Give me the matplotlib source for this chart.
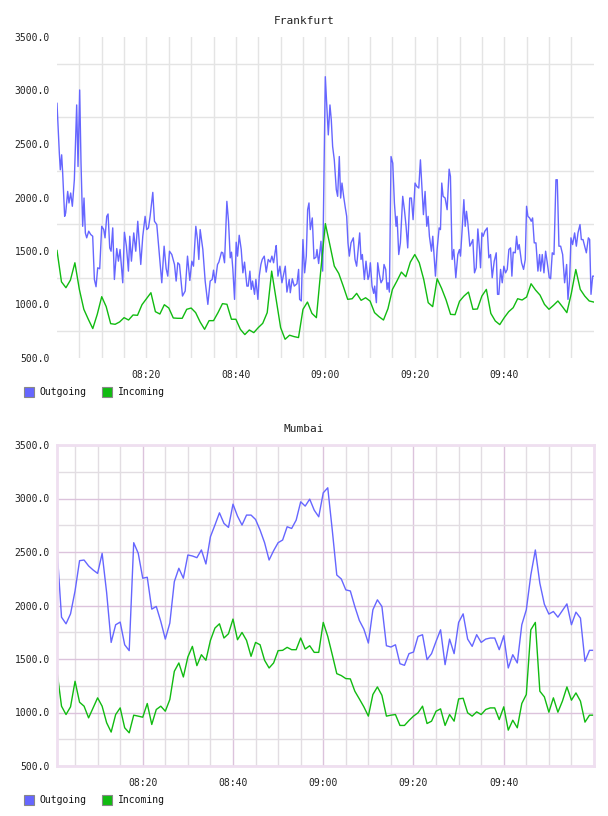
import matplotlib
matplotlib.use('Agg')
from matplotlib import pyplot as plt
from matplotlib.patches import Rectangle
from matplotlib.ticker import FixedLocator, NullFormatter

# minutes after 08:00
fra_out_t = [0, 0.52, 0.74, 1.04, 1.27, 1.71, 1.94, 2.39, 2.68, 3.06, 3.43, 3.88, 4.40, 4.70, 5.07,
             5.37, 5.74, 6.04, 6.34, 6.64, 7.09, 7.54, 7.98, 8.36, 8.73, 9.10, 9.55, 10.0, 10.45, 10.74,
             11.12, 11.42, 11.79, 12.09, 12.46, 12.83, 13.36, 13.73, 14.10, 14.70, 15.07, 15.52, 15.97, 16.27, 16.64,
             17.16, 17.61, 18.06, 18.73, 19.18, 19.70, 20.07, 20.45, 20.82, 21.42, 21.79, 22.31, 22.83, 23.43, 23.95,
             24.40, 24.77, 25.15, 25.67, 26.27, 26.64, 27.01, 27.39, 28.06, 28.66, 29.18, 29.70, 30.15,
             30.52, 31.04, 31.41, 31.71, 32.01, 32.61, 33.13, 33.73, 34.25, 34.70, 35.0, 35.37, 35.89, 36.19, 36.78,
             37.08, 37.46, 37.98, 38.35, 38.73, 39.02, 39.32, 39.70, 40.07, 40.37, 40.74, 41.19, 41.56, 41.93, 42.46,
             42.76, 43.13, 43.43, 43.72, 44.17, 44.47, 44.92, 45.22, 45.59, 45.89, 46.34, 46.78, 47.23, 47.68, 48.05,
             48.43, 48.80, 49.02, 49.40, 49.84, 50.29, 50.67, 51.04, 51.41, 51.93, 52.16, 52.61, 53.05, 53.65, 54.02,
             54.25, 54.62, 54.99, 55.37, 55.74, 56.04, 56.34, 56.64, 57.08, 57.46, 57.90, 58.13, 58.50, 59.02, 59.40, 59.99,
             60.36, 60.66, 61.03, 61.33, 61.63, 62.0, 62.45, 62.75, 63.12, 63.42, 63.72, 64.09, 64.47, 64.77, 65.06,
             65.36, 65.74, 66.26, 66.63, 67.0, 67.68, 67.98, 68.27, 68.72, 69.09, 69.54, 69.77, 70.06, 70.44, 70.81,
             71.03, 71.41, 71.71, 72.08, 72.45, 72.83, 73.12, 73.50, 73.80, 74.02, 74.32, 74.69, 75.07, 75.44, 75.81,
             76.03, 76.41, 76.78, 77.30, 77.68, 78.05, 78.42, 78.87, 79.24, 79.62, 80.06, 80.44, 80.89, 81.26, 81.63,
             81.93, 82.30, 82.68, 82.98, 83.27, 83.72, 84.02, 84.62, 84.99, 85.44, 85.74, 86.03, 86.33, 86.78, 87.23,
             87.68, 87.97, 88.35, 88.72, 89.17, 89.62, 89.99,
             90.22, 90.59, 90.97, 91.27, 91.56, 91.86, 92.31, 92.68, 92.98, 93.35, 93.73, 94.10, 94.47, 94.70, 95.0,
             95.29, 95.67, 96.19, 96.56, 96.94, 97.31, 97.76, 98.21, 98.50, 98.80, 99.18, 99.55, 99.92, 100.29, 100.67,
             101.04, 101.41, 101.71, 102.01, 102.46, 102.76, 103.06, 103.35, 103.88, 104.32, 104.70, 104.99, 105.29, 105.67, 106.04,
             106.34, 106.71, 107.09, 107.53, 107.91, 108.13, 108.50, 108.88, 109.25, 109.62, 110.07, 110.37, 110.74, 111.12, 111.56,
             111.86, 112.23, 112.61, 113.06, 113.50, 113.95, 114.25, 114.62, 114.92, 115.29, 115.74, 116.12, 116.49, 116.94, 117.24,
             117.61, 117.99, 118.36, 118.81, 119.10, 119.40, 119.77, 120.07]
fra_out_v = [2880, 2415, 2259, 2399, 2228, 1824, 1855, 2057, 1949, 2042, 1918, 2166, 2865, 2290, 3005,
             2321, 1731, 1995, 1669, 1623, 1685, 1654, 1638, 1234, 1166, 1343, 1334, 1731, 1700, 1623,
             1824, 1846, 1529, 1498, 1716, 1234, 1523, 1405, 1514, 1203, 1675, 1545, 1312, 1638, 1405,
             1669, 1498, 1778, 1374, 1638, 1824, 1700, 1716, 1824, 2048, 1778, 1747, 1498, 1203, 1545,
             1337, 1265, 1498, 1467, 1374, 1219, 1390, 1374, 1079, 1126, 1452, 1225, 1405,
             1358, 1731, 1607, 1421, 1700, 1514, 1219, 1001, 1219, 1234, 1321, 1203, 1374, 1396, 1489,
             1483, 1390, 1964, 1778, 1436, 1489, 1328, 1048, 1582, 1452, 1647, 1514, 1296, 1396, 1172,
             1172, 1312, 1141, 1219, 1095, 1234, 1048, 1265, 1374, 1421, 1452, 1303, 1421, 1396, 1452,
             1390, 1498, 1551, 1265, 1358, 1203, 1281, 1358, 1116, 1234, 1110, 1241, 1172, 1194, 1328,
             1048, 1033, 1607, 1296, 1452, 1886, 1949, 1700, 1809, 1427, 1442, 1514, 1383, 1591, 1312, 3129,
             2818, 2585, 2865, 2725, 2477, 2352, 2073, 2011, 2383, 1995, 2135, 2011, 1902, 1824, 1576,
             1452, 1576, 1623, 1421, 1358, 1669, 1421, 1467, 1234, 1405, 1234, 1265, 1390, 1172, 1104,
             1172, 1017, 1390, 1281, 1203, 1234, 1374, 1328, 1141, 1203, 1116, 2383, 2321, 1949, 1731,
             1824, 1467, 1576, 2011, 1886, 1731, 1529, 1995, 1995, 1793, 2135, 2104, 2088, 2352, 2073,
             1840, 2057, 1731, 1824, 1638, 1498, 1638, 1265, 1514, 1716, 1700, 2135, 2011, 1995, 1886,
             2265, 2197, 1421, 1514, 1250, 1467, 1514,
             1452, 1700, 1980, 1731, 1871, 1762, 1545, 1576, 1607, 1296, 1343, 1706, 1514, 1343, 1669,
             1638, 1685, 1716, 1436, 1467, 1250, 1405, 1483, 1095, 1095, 1328, 1203, 1358, 1296, 1328,
             1514, 1529, 1265, 1489, 1483, 1638, 1514, 1560, 1390, 1328, 1421, 1918, 1824, 1809, 1778,
             1809, 1576, 1576, 1312, 1467, 1312, 1467, 1296, 1498, 1390, 1250, 1241, 1483, 1467, 2166,
             2166, 1545, 1545, 1467, 1203, 1374, 1048, 1234, 1623, 1560, 1669, 1545, 1669, 1747, 1607,
             1607, 1545, 1483, 1623, 1607, 1095, 1265, 1265]

fra_in_t = list(range(0, 121))
fra_in_v = [1505, 1212, 1157, 1228, 1390, 1141, 955, 862, 775, 908,
            1073, 980, 821, 815, 837, 877, 855, 902, 899, 998,
            1054, 1110, 933, 911, 998, 967, 874, 871, 871, 955,
            967, 924, 837, 768, 849, 849, 924, 1008, 1002, 862,
            862, 768, 719, 762, 737, 784, 824, 924, 1312, 1048,
            784, 675, 713, 700, 691, 955, 1023, 917, 877, 1327,
            1756, 1560, 1359, 1290, 1172, 1048, 1054, 1104, 1039, 1063,
            1032, 924, 886, 855, 961, 1141, 1219, 1303, 1259, 1396,
            1467, 1390, 1234, 1017, 980, 1241, 1150, 1042, 908, 905,
            1030, 1079, 1116, 955, 958, 1079, 1141, 917, 846, 812,
            877, 933, 970, 1054, 1042, 1070, 1194, 1135, 1088, 1001,
            955, 992, 1033, 980, 924, 1104, 1327, 1141, 1079, 1033,
            1023]

mum_t = list(range(1, 121))
mum_out_v = [2534, 1891, 1829, 1922, 2136, 2419, 2425, 2370, 2332, 2300,
             2487, 2120, 1655, 1820, 1845, 1633, 1578, 2587, 2488, 2255,
             2264, 1966, 1991, 1851, 1686, 1835, 2223, 2348, 2255, 2472,
             2463, 2447, 2519, 2388, 2643, 2752, 2866, 2767, 2730, 2947,
             2835, 2752, 2845, 2845, 2804, 2705, 2587, 2425, 2512, 2587,
             2612, 2736, 2720, 2798, 2969, 2929, 2994, 2891, 2829, 3053,
             3100, 2705, 2285, 2248, 2146, 2136, 1990, 1860, 1779, 1649,
             1960, 2053, 1991, 1624, 1612, 1633, 1456, 1441, 1550, 1565,
             1711, 1727, 1494, 1550, 1665, 1773, 1447, 1686, 1550, 1842,
             1922, 1686, 1618, 1727, 1655, 1686, 1696, 1696, 1587, 1717,
             1416, 1540, 1463, 1820, 1960, 2285, 2519, 2208, 2012, 1920,
             1944, 1891, 1953, 2015, 1820, 1938, 1882, 1478, 1581, 1581]
mum_in_v = [1385, 1059, 981, 1053, 1292, 1096, 1059, 950, 1043, 1137,
            1059, 904, 817, 981, 1043, 857, 810, 975, 966, 956,
            1084, 888, 1028, 1059, 1012, 1121, 1385, 1463, 1332, 1519,
            1618, 1438, 1540, 1488, 1674, 1789, 1829, 1696, 1736, 1873,
            1680, 1748, 1674, 1525, 1655, 1633, 1488, 1416, 1463, 1578,
            1581, 1609, 1587, 1587, 1696, 1593, 1624, 1562, 1562, 1842,
            1711, 1540, 1363, 1345, 1317, 1314, 1199, 1127, 1053, 966,
            1168, 1239, 1161, 966, 975, 981, 879, 879, 925, 966,
            997, 1059, 897, 919, 1012, 1034, 879, 981, 919, 1127,
            1133, 997, 966, 1006, 981, 1028, 1043, 1043, 934, 1053,
            835, 928, 857, 1084, 1168, 1773, 1842, 1199, 1146, 1003,
            1137, 1003, 1106, 1239, 1115, 1183, 1106, 910, 975, 975]

x_ticks = [20, 40, 60, 80, 100]
x_labels = ['08:20', '08:40', '09:00', '09:20', '09:40']
y_ticks = [500, 1000, 1500, 2000, 2500, 3000, 3500]

OUT_C = '#6666ff'
IN_C = '#11bb11'
W, H = 608, 816
MONO = 'DejaVu Sans Mono'

fig = plt.figure(figsize=(W / 100, H / 100), dpi=100)


def px_axes(left, top, right, bottom):
    return fig.add_axes([left / W, 1 - bottom / H, (right - left) / W, (bottom - top) / H])


def legend(y):
    for x0, tx, label, c in [(24, 39, 'Outgoing', OUT_C), (102, 118, 'Incoming', IN_C)]:
        fig.patches.append(Rectangle((x0 / W, 1 - (y + 5) / H), 10 / W, 10 / H, transform=fig.transFigure,
                                     facecolor=c, edgecolor='#888888', linewidth=0.8))
        fig.text(tx / W, 1 - y / H, label, fontsize=7, family=MONO, color='#111111', va='center', ha='left')


def setup(ax, xmin, xmax, framed):
    ax.set_xlim(xmin, xmax)
    ax.set_ylim(500, 3500)
    ax.set_yticks(y_ticks)
    ax.set_yticklabels([f'{v:.1f}' for v in y_ticks])
    ax.set_xticks(x_ticks)
    ax.set_xticklabels(x_labels)
    ax.xaxis.set_minor_locator(FixedLocator([m for m in range(5, 120, 5) if m % 20]))
    ax.yaxis.set_minor_locator(FixedLocator(list(range(750, 3500, 500))))
    ax.xaxis.set_minor_formatter(NullFormatter())
    ax.tick_params(which='both', length=0, labelsize=7, colors='#222222')
    ax.tick_params(axis='y', pad=5)
    ax.tick_params(axis='x', pad=8.5)
    for lab in ax.get_xticklabels() + ax.get_yticklabels():
        lab.set_family(MONO)
    ax.set_axisbelow(True)
    if framed:
        ax.grid(True, which='major', color='#dcc3dc', linewidth=1.0)
        ax.grid(True, which='minor', color='#e2dde2', linewidth=1.0)
        for s in ax.spines.values():
            s.set_color('#efdff0')
            s.set_linewidth(2)
    else:
        ax.grid(True, which='minor', color='#e4e4e4', linewidth=1.0)
        ax.grid(True, which='major', axis='x', color='#e4e4e4', linewidth=1.0)
        for s in ax.spines.values():
            s.set_visible(False)


# Frankfurt
ax1 = px_axes(57, 37, 594, 358)
setup(ax1, 0, 120.07, False)
ax1.plot(fra_out_t, fra_out_v, color=OUT_C, linewidth=1.0)
ax1.plot(fra_in_t, fra_in_v, color=IN_C, linewidth=1.0)
fig.text(0.5, 1 - 20.5 / H, 'Frankfurt', ha='center', va='center', fontsize=8, family=MONO, color='#222222')
legend(392)

# Mumbai
ax2 = px_axes(57, 445, 594, 766)
setup(ax2, 1, 120, True)
ax2.plot(mum_t, mum_out_v, color=OUT_C, linewidth=1.0)
ax2.plot(mum_t, mum_in_v, color=IN_C, linewidth=1.0)
fig.text(0.5, 1 - 429 / H, 'Mumbai', ha='center', va='center', fontsize=8, family=MONO, color='#222222')
legend(800)

fig.savefig('out.png', dpi=100)
